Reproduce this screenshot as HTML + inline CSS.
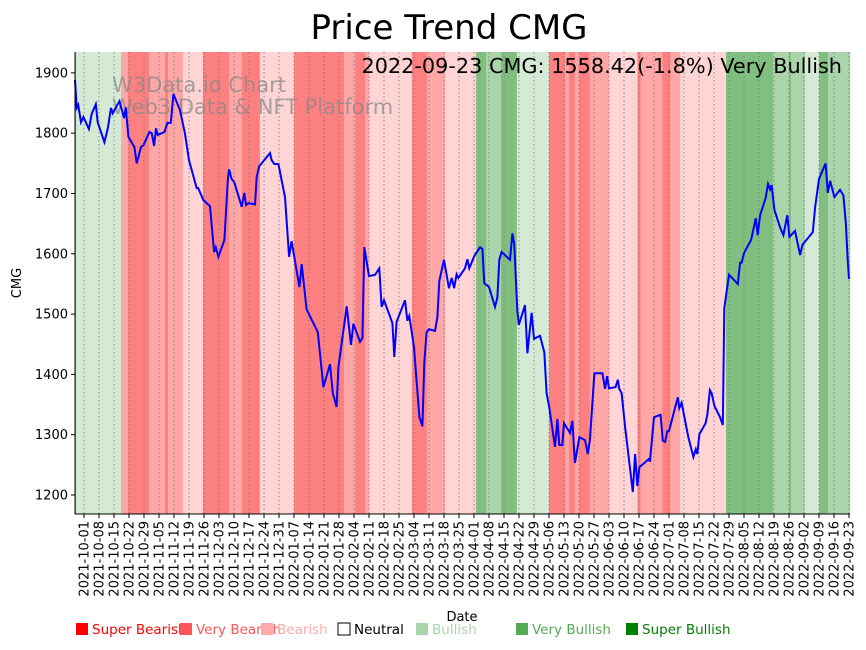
<!DOCTYPE html>
<html><head><meta charset="utf-8"><style>
body{margin:0;background:#fff;width:866px;height:646px;overflow:hidden;font-family:"DejaVu Sans","Liberation Sans",sans-serif}
svg text{font-family:"DejaVu Sans","Liberation Sans",sans-serif}
</style></head><body>
<svg id="chart" width="866" height="646" xmlns="http://www.w3.org/2000/svg">
<text x="449" y="39" font-size="34" text-anchor="middle">Price Trend CMG</text>
<g id="bands"></g>
<g id="grid"></g>
<g id="wm" fill="#888" fill-opacity="0.75" font-size="21">
<text x="112" y="92">W3Data.io Chart</text>
<text x="112" y="114">Web3 Data &amp; NFT Platform</text>
</g>
<path id="line" fill="none" stroke="#0000ff" stroke-width="2"/>
<text x="842" y="73" font-size="20.8" text-anchor="end">2022-09-23 CMG: 1558.42(-1.8%) Very Bullish</text>
<g id="yaxis"></g>
<g id="xaxis"></g>
<line x1="75" y1="52" x2="75" y2="514" stroke="#000" stroke-width="1"/>
<line x1="75" y1="514" x2="850" y2="514" stroke="#000" stroke-width="1"/>
<text x="462" y="621" font-size="13" text-anchor="middle">Date</text>
<text x="0" y="0" font-size="13" text-anchor="middle" transform="translate(21,283) rotate(-90)">CMG</text>
<g id="legend" font-size="13.5"></g>
</svg>
<script>
const days=[-4.2,-3.4,-2.7,-1.4,-0.3,2.3,3.6,5.5,6.4,9.5,11.1,12.6,13.4,16.5,18.7,19.5,20.7,23.5,24.6,26.6,27.7,30.5,31.6,32.7,33.6,34.4,37.5,38.9,40.5,41.7,44.8,47.1,49.0,52.6,53.3,55.7,58.8,60.7,61.5,62.7,65.5,67.1,67.7,68.9,70.1,73.6,74.8,75.6,76.7,79.8,80.6,81.7,86.8,87.6,88.8,90.7,93.8,95.7,96.9,100.5,101.6,103.9,109.1,111.7,114.8,116.1,117.9,118.7,122.6,124.6,125.7,128.8,129.9,130.8,133.0,135.8,137.8,138.9,140.0,143.9,144.8,145.9,149.8,150.9,151.8,154.0,156.5,157.9,158.8,159.9,161.0,163.8,164.9,165.8,168.0,170.3,171.6,172.7,173.9,174.7,177.8,178.9,179.8,182.1,184.8,185.9,186.8,189.0,191.8,192.9,193.8,194.9,198.8,199.9,200.8,202.2,202.9,205.8,206.9,208.9,210.0,212.8,214.8,215.9,217.1,219.8,220.9,221.8,223.2,224.0,226.8,227.9,229.1,231.2,233.8,235.1,236.1,238.2,241.9,243.2,244.1,245.0,248.1,249.1,249.8,250.9,252.5,256.1,257.2,258.2,259.2,263.7,264.1,266.0,269.1,270.1,271.2,272.2,273.0,277.1,277.8,278.9,282.0,284.4,285.5,286.2,287.2,290.1,290.9,292.1,292.9,294.2,296.8,298.1,298.8,301.0,303.5,305.1,306.2,306.9,308.0,311.3,313.5,314.4,315.5,318.1,319.2,320.2,320.9,322.2,324.8,326.4,328.2,329.2,331.8,334.2,335.3,340.1,341.2,343.0,346.1,347.1,348.2,350.2,352.8,354.4,355.5,356.4,357.0];
const prices=[1888,1842,1847,1818,1827,1807,1832,1848,1818,1785,1808,1842,1833,1853,1825,1843,1794,1777,1750,1777,1780,1802,1800,1779,1808,1797,1802,1817,1817,1865,1838,1800,1755,1709,1709,1689,1679,1603,1611,1595,1623,1722,1740,1724,1719,1678,1701,1681,1684,1682,1727,1745,1767,1755,1749,1749,1694,1595,1621,1545,1583,1508,1470,1379,1417,1369,1346,1412,1513,1449,1484,1454,1460,1611,1563,1565,1576,1512,1523,1485,1429,1487,1523,1489,1497,1445,1329,1314,1419,1470,1475,1472,1495,1555,1590,1543,1560,1543,1566,1560,1576,1591,1576,1596,1611,1608,1551,1545,1512,1528,1590,1603,1590,1634,1615,1507,1482,1515,1435,1502,1459,1464,1437,1369,1346,1280,1326,1283,1283,1319,1303,1323,1253,1296,1291,1268,1291,1402,1402,1376,1397,1377,1379,1391,1376,1369,1313,1205,1268,1215,1246,1260,1255,1329,1333,1290,1288,1306,1306,1362,1344,1353,1296,1263,1276,1268,1301,1319,1334,1374,1369,1348,1329,1316,1510,1565,1556,1550,1585,1585,1601,1623,1659,1631,1664,1692,1716,1707,1714,1673,1644,1631,1664,1628,1638,1598,1615,1636,1677,1724,1750,1701,1721,1694,1706,1697,1651,1590,1558.42];
const bandStart=[-4.2,-3.7,17.3,20.5,30.3,37.8,39.2,46.2,55.5,67.7,73.7,82.1,98,121.3,126.5,131.1,133,153,160,168.5,183,187.6,194.6,202,217,224.5,226.3,229,231,236,245,258.3,259.7,269.9,273.6,278.2,299.6,321.5,329,329.9,336.5,343,347.2];
const bandLevel=[3,1,-2,-3,-2,-3,-2,-1,-3,-2,-3,-1,-3,-2,-3,-2,-1,-3,-2,-1,3,2,3,1,-3,-2,-3,-2,-3,-2,-1,-3,-2,-3,-2,-1,3,2,3,2,1,3,2];
const yTicks=[1200,1300,1400,1500,1600,1700,1800,1900];
const xTickLabels=["2021-10-01","2021-10-08","2021-10-15","2021-10-22","2021-10-29","2021-11-05","2021-11-12","2021-11-19","2021-11-26","2021-12-03","2021-12-10","2021-12-17","2021-12-24","2021-12-31","2022-01-07","2022-01-14","2022-01-21","2022-01-28","2022-02-04","2022-02-11","2022-02-18","2022-02-25","2022-03-04","2022-03-11","2022-03-18","2022-03-25","2022-04-01","2022-04-08","2022-04-15","2022-04-22","2022-04-29","2022-05-06","2022-05-13","2022-05-20","2022-05-27","2022-06-03","2022-06-10","2022-06-17","2022-06-24","2022-07-01","2022-07-08","2022-07-15","2022-07-22","2022-07-29","2022-08-05","2022-08-12","2022-08-19","2022-08-26","2022-09-02","2022-09-09","2022-09-16","2022-09-23"];
const legendNames=["Super Bearish","Very Bearish","Bearish","Neutral","Bullish","Very Bullish","Super Bullish"];

const NS="http://www.w3.org/2000/svg";
const L=75,R=850,T=52,B=514;
const xS=d=>84+d*(765/357);
const yS=v=>495-(v-1200)*0.603;
const bandColor={"-3":"#ff8080","-2":"#ffa6a6","-1":"#ffd4d4","1":"#d5ead5","2":"#aad4aa","3":"#80bf80"};
function mk(tag,attrs,parent){const e=document.createElementNS(NS,tag);for(const k in attrs)e.setAttribute(k,attrs[k]);parent.appendChild(e);return e;}

const bands=document.getElementById('bands');
for(let i=0;i<bandStart.length;i++){
  const x0=Math.max(L,xS(bandStart[i]));
  const x1=i+1<bandStart.length?xS(bandStart[i+1]):R;
  const r=mk('rect',{x:x0,y:T,width:Math.max(0,Math.min(R,x1)-x0+0.3),height:B-T,fill:bandColor[bandLevel[i]]},bands);
  
  
}
const grid=document.getElementById('grid'),xa=document.getElementById('xaxis');
xTickLabels.forEach((t,i)=>{
  const x=xS(i*7);
  const g=mk('line',{x1:x,y1:T,x2:x,y2:B,stroke:'#777','stroke-width':0.8,'stroke-dasharray':'1.5,2.5'},grid);
  
  
  const tk=mk('line',{x1:x,y1:B,x2:x,y2:B+4,stroke:'#000'},xa);
  
  
  const tx=mk('text',{x:0,y:0,'font-size':13,'text-anchor':'end',transform:`translate(${x+4.5},${B+7}) rotate(-90)`},xa);
  tx.textContent=t;
  
  
});
const ya=document.getElementById('yaxis');
yTicks.forEach(v=>{
  const y=yS(v);
  const tk=mk('line',{x1:L-4,y1:y,x2:L,y2:y,stroke:'#000'},ya);
  
  
  const tx=mk('text',{x:L-7,y:y+4.5,'font-size':13,'text-anchor':'end'},ya);
  tx.textContent=v;
  
  
});
let d='';
days.forEach((dd,i)=>{d+=(i?'L':'M')+xS(dd).toFixed(1)+','+yS(prices[i]).toFixed(1);});
document.getElementById('line').setAttribute('d',d);

const lg=document.getElementById('legend');
const legX=[76,180,261,338,416,516,626];
const legCol=["#ff0000","#ff5555","#ffaaaa","#000000","#aad5aa","#55aa55","#008000"];
legendNames.forEach((n,i)=>{
  const sq=mk('rect',{x:legX[i],y:623,width:12,height:12,fill:i===3?'#fff':legCol[i],stroke:i===3?'#000':'none'},lg);
  
  
  const t=mk('text',{x:legX[i]+16,y:634,fill:legCol[i]},lg);
  t.textContent=n;
  
  
});
</script>
</body></html>
